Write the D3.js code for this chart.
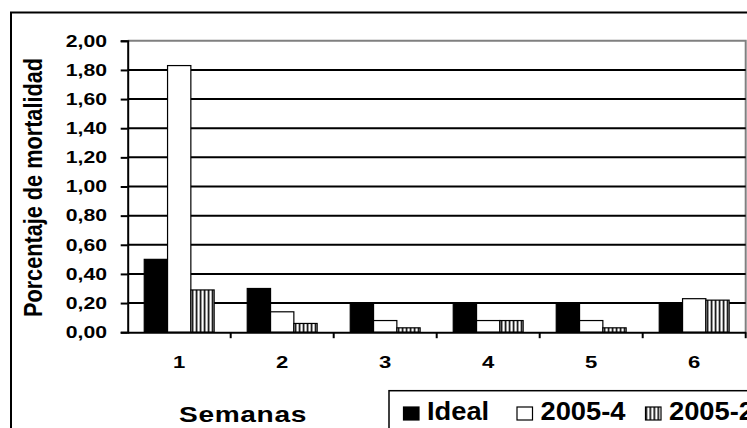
<!DOCTYPE html>
<html>
<head>
<meta charset="utf-8">
<script src="https://cdn.jsdelivr.net/npm/d3@7"></script>
<style>
  html, body { margin: 0; padding: 0; background: #fff; }
  svg text { font-family: "Liberation Sans", Arial, sans-serif; font-weight: bold; fill: #000; }
</style>
</head>
<body>
<svg id="chart" width="747" height="428"></svg>
<script>
// Weekly mortality (%) per batch
const semanas = ["1", "2", "3", "4", "5", "6"];
const series = ["Ideal", "2005-4", "2005-2"];
const ideal = [0.50, 0.30, 0.20, 0.20, 0.20, 0.20];
const lote2005_4 = [1.83, 0.14, 0.08, 0.08, 0.08, 0.23];
const lote2005_2 = [0.29, 0.06, 0.03, 0.08, 0.03, 0.22];
const yTicks = [0, 0.2, 0.4, 0.6, 0.8, 1.0, 1.2, 1.4, 1.6, 1.8, 2.0];

const values = [ideal, lote2005_4, lote2005_2];
const rows = semanas.map((s, i) => ({ semana: s, vals: series.map((k, j) => ({ key: k, v: values[j][i] })) }));

const svg = d3.select("#chart");
const defs = svg.append("defs");
const stripe = defs.append("pattern")
  .attr("id", "stripes").attr("patternUnits", "userSpaceOnUse")
  .attr("width", 4).attr("height", 4);
stripe.append("rect").attr("width", 4).attr("height", 4).attr("fill", "#fff");
stripe.append("rect").attr("x", 0).attr("width", 1.6).attr("height", 4).attr("fill", "#000");

const fills = { "Ideal": "#000", "2005-4": "#fff", "2005-2": "url(#stripes)" };

const plotL = 127.7, plotR = 745.7, plotT = 40.8, plotB = 332.2;
const SX = 1.3; // horizontal stretch of the lettering

const y = d3.scaleLinear().domain([0, 2]).range([plotB, plotT]);
const x0 = d3.scaleBand().domain(semanas).range([plotL, plotR]).padding(0);
const x1 = d3.scaleBand().domain(series).range([0, x0.bandwidth()]).paddingInner(0).paddingOuter(0.71);

// outer frame
svg.append("rect").attr("x", 11).attr("y", 12.5).attr("width", 800).attr("height", 500)
  .attr("fill", "none").attr("stroke", "#000").attr("stroke-width", 2);

// plot frame (top and right)
svg.append("path")
  .attr("d", `M${plotL},${plotT}H${plotR}V${plotB}`)
  .attr("fill", "none").attr("stroke", "#808080").attr("stroke-width", 2);

// gridlines
svg.append("g").selectAll("line")
  .data(yTicks.filter(t => t > 0 && t < 2))
  .join("line")
  .attr("x1", plotL).attr("x2", plotR)
  .attr("y1", d => y(d)).attr("y2", d => y(d))
  .attr("stroke", "#000").attr("stroke-width", 2);

// bars
const groups = svg.append("g").selectAll("g").data(rows).join("g")
  .attr("transform", d => `translate(${x0(d.semana)},0)`);
groups.selectAll("rect").data(d => d.vals).join("rect")
  .attr("x", d => x1(d.key))
  .attr("y", d => y(d.v))
  .attr("width", x1.bandwidth())
  .attr("height", d => plotB - y(d.v))
  .attr("fill", d => fills[d.key])
  .attr("stroke", "#000").attr("stroke-width", 1.2);

// y axis
const yAxis = d3.axisLeft(y).tickValues(yTicks).tickSize(7).tickFormat(() => "");
const gy = svg.append("g").attr("transform", `translate(${plotL},0)`).call(yAxis);
gy.select(".domain").attr("stroke", "#000").attr("stroke-width", 2);
gy.selectAll(".tick line").attr("stroke", "#000").attr("stroke-width", 2);

const fmt = d => d.toFixed(2).replace(".", ",");
svg.append("g").selectAll("g").data(yTicks).join("g")
  .attr("transform", d => `translate(107,${y(d) + 5.8}) scale(${SX},1)`)
  .append("text").attr("text-anchor", "end").attr("font-size", 16.3).text(fmt);

// x axis
const xAxis = d3.axisBottom(x0).tickSize(0).tickFormat(() => "");
const gx = svg.append("g").attr("transform", `translate(0,${plotB})`).call(xAxis);
gx.select(".domain").attr("stroke", "#000").attr("stroke-width", 2);
svg.append("g").selectAll("line").data(semanas)
  .join("line")
  .attr("x1", d => x0(d) + x0.step()).attr("x2", d => x0(d) + x0.step())
  .attr("y1", plotB).attr("y2", plotB + 6)
  .attr("stroke", "#000").attr("stroke-width", 2);

svg.append("g").selectAll("g").data(semanas).join("g")
  .attr("transform", d => `translate(${x0(d) + x0.bandwidth() / 2},${368}) scale(${SX},1)`)
  .append("text").attr("text-anchor", "middle").attr("font-size", 17).text(d => d);

// axis titles
svg.append("g").attr("transform", `translate(243,421.5) scale(1.25,1)`)
  .append("text").attr("text-anchor", "middle").attr("font-size", 22.5)
  .attr("letter-spacing", 0.5).text("Semanas");

svg.append("g").attr("transform", `translate(41.5,187.5) scale(1.22,1) rotate(-90)`)
  .append("text").attr("text-anchor", "middle").attr("font-size", 21.7)
  .text("Porcentaje de mortalidad");

// legend
const leg = svg.append("g");
leg.append("rect").attr("x", 389).attr("y", 390.7).attr("width", 500).attr("height", 100)
  .attr("fill", "#fff").attr("stroke", "#000").attr("stroke-width", 1.5);
const legX = [403.5, 517, 645.5];
const items = leg.selectAll("g.item").data(series).join("g").attr("class", "item")
  .attr("transform", (d, i) => `translate(${legX[i]},0)`);
items.append("rect").attr("x", 0).attr("y", 407).attr("width", 15.5).attr("height", 13)
  .attr("fill", d => fills[d]).attr("stroke", "#000").attr("stroke-width", 1.2);
items.append("g").attr("transform", `translate(23.5,420) scale(1.05,1)`)
  .append("text").attr("font-size", 26).text(d => d);
</script>
</body>
</html>
